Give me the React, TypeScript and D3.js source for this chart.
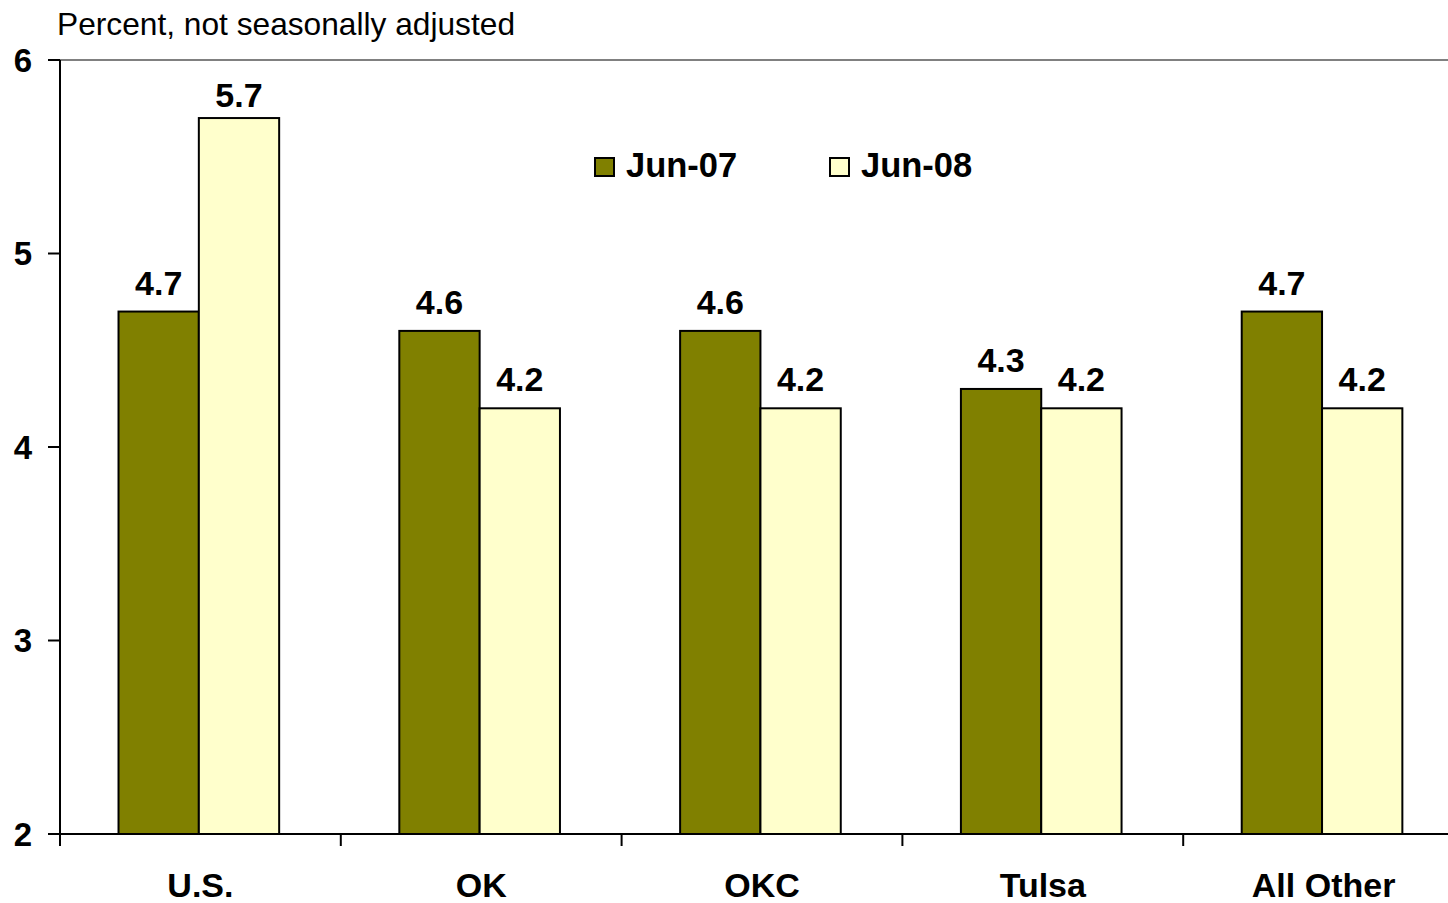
import React from "react";
import * as d3 from "d3";

// Unemployment rate by area, June 2007 vs June 2008
const categories = ["U.S.", "OK", "OKC", "Tulsa", "All Other"];
const seriesNames = ["Jun-07", "Jun-08"];
const jun07 = [4.7, 4.6, 4.6, 4.3, 4.7];
const jun08 = [5.7, 4.2, 4.2, 4.2, 4.2];
const yTicks = [2, 3, 4, 5, 6];
const seriesColors = ["#808000", "#FFFFCC"];

const W = 1448;
const H = 903;
const left = 60;
const top = 60;
const bottom = 834;
const bandWidth = 280.8;
const FONT = "'Liberation Sans', Arial, Helvetica, sans-serif";

export default function App() {
  const x = d3
    .scaleBand<string>()
    .domain(categories)
    .range([left, left + bandWidth * categories.length])
    .paddingInner(0)
    .paddingOuter(0);
  const xSub = d3
    .scaleBand<string>()
    .domain(seriesNames)
    .range([0, x.bandwidth()])
    .paddingInner(0)
    .paddingOuter(0.748)
    .align(0.487);
  const y = d3.scaleLinear().domain([2, 6]).range([bottom, top]);

  const values = [jun07, jun08];
  const bars = categories.flatMap((c, i) =>
    seriesNames.map((s, j) => ({ c, s, j, v: values[j][i] }))
  );

  const tickXs = [...categories.map((c) => x(c) as number), x.range()[1]];

  return (
    <svg
      width={W}
      height={H}
      style={{ position: "absolute", left: 0, top: 0, background: "#fff" }}
      fontFamily={FONT}
    >
      {/* unit note */}
      <text x={57} y={35} fontSize={31.7} fill="#000">
        Percent, not seasonally adjusted
      </text>

      {/* plot area top border */}
      <line x1={left} x2={W} y1={top} y2={top} stroke="#808080" strokeWidth={2} />

      {/* bars */}
      {bars.map((b) => {
        const bx = (x(b.c) as number) + (xSub(b.s) as number);
        const by = y(b.v);
        return (
          <rect
            key={b.c + b.s}
            x={bx}
            y={by}
            width={xSub.bandwidth()}
            height={bottom - by}
            fill={seriesColors[b.j]}
            stroke="#000"
            strokeWidth={2}
          />
        );
      })}

      {/* value labels */}
      {bars.map((b) => {
        const cx = (x(b.c) as number) + (xSub(b.s) as number) + xSub.bandwidth() / 2;
        const ly = Math.max(y(b.v) - 17, 107);
        return (
          <text
            key={"l" + b.c + b.s}
            x={cx}
            y={ly}
            textAnchor="middle"
            fontSize={34}
            fontWeight="bold"
            fill="#000"
          >
            {d3.format(".1f")(b.v)}
          </text>
        );
      })}

      {/* y axis */}
      <line x1={left} x2={left} y1={top} y2={bottom} stroke="#000" strokeWidth={2} />
      {yTicks.map((t) => (
        <g key={"y" + t}>
          <line x1={48} x2={left} y1={y(t)} y2={y(t)} stroke="#000" strokeWidth={2} />
          <text
            x={32}
            y={y(t)}
            dy="0.36em"
            textAnchor="end"
            fontSize={33}
            fontWeight="bold"
            fill="#000"
          >
            {t}
          </text>
        </g>
      ))}

      {/* x axis */}
      <line x1={left} x2={W} y1={bottom} y2={bottom} stroke="#000" strokeWidth={2} />
      {tickXs.map((tx, i) => (
        <line key={"xt" + i} x1={tx} x2={tx} y1={bottom} y2={846} stroke="#000" strokeWidth={2} />
      ))}
      {categories.map((c) => (
        <text
          key={"c" + c}
          x={(x(c) as number) + x.bandwidth() / 2}
          y={897}
          textAnchor="middle"
          fontSize={34}
          fontWeight="bold"
          fill="#000"
        >
          {c}
        </text>
      ))}

      {/* legend */}
      {seriesNames.map((s, j) => {
        const lx = [594, 829][j];
        return (
          <g key={"lg" + s}>
            <rect
              x={lx + 1}
              y={158}
              width={19}
              height={18}
              fill={seriesColors[j]}
              stroke="#000"
              strokeWidth={2}
            />
            <text x={lx + 32} y={176.5} fontSize={34.5} fontWeight="bold" fill="#000">
              {s}
            </text>
          </g>
        );
      })}
    </svg>
  );
}
